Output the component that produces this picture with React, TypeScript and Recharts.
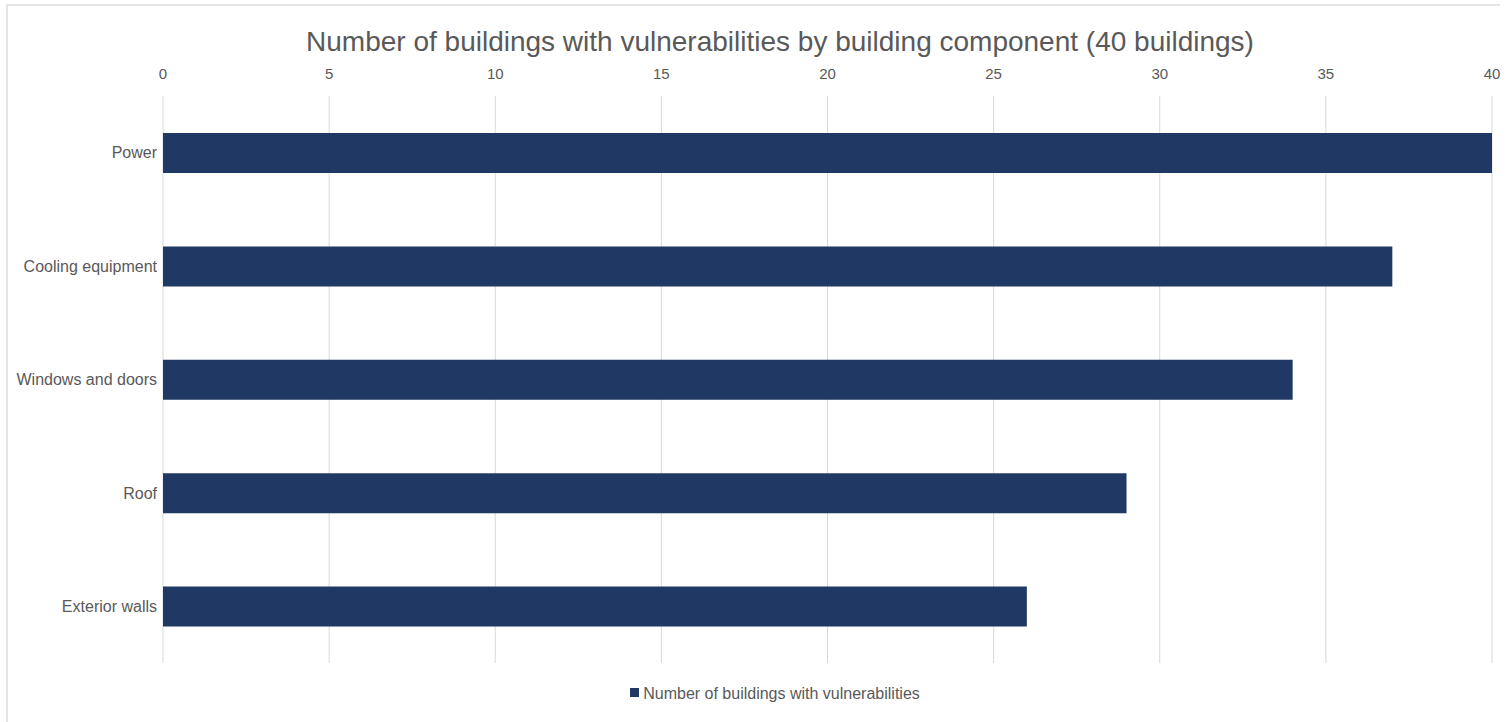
import React from 'react';
import { BarChart, Bar, XAxis, YAxis, CartesianGrid, Legend } from 'recharts';

const categories = ['Power', 'Cooling equipment', 'Windows and doors', 'Roof', 'Exterior walls'];
const buildingCounts = [40, 37, 34, 29, 26];
const xTicks = [0, 5, 10, 15, 20, 25, 30, 35, 40];
const seriesName = 'Number of buildings with vulnerabilities';
const chartTitle = 'Number of buildings with vulnerabilities by building component (40 buildings)';

const data = categories.map((c, i) => ({ component: c, value: buildingCounts[i] }));

const FONT = '"Liberation Sans", Arial, Helvetica, sans-serif';
const BAR_COLOR = '#203864';
const TEXT_COLOR = '#595959';

const LegendContent = () => (
  <div style={{ height: 20, lineHeight: '20px', textAlign: 'center', fontFamily: FONT, fontSize: 16, color: TEXT_COLOR, paddingLeft: 58 }}>
    <span style={{ display: 'inline-block', width: 9, height: 9, background: BAR_COLOR, marginRight: 4, verticalAlign: 'middle', position: 'relative', top: -1 }} />
    <span style={{ verticalAlign: 'middle' }}>{seriesName}</span>
  </div>
);

export default function App() {
  return (
    <div style={{ position: 'absolute', left: 0, top: 0, width: 1506, height: 722, background: '#fff', overflow: 'hidden', fontFamily: FONT }}>
      <div style={{ position: 'absolute', left: 6, top: 4, width: 1492, height: 740, borderTop: '2px solid #e4e4e4', borderLeft: '2px solid #e4e4e4' }} />
      <div style={{ position: 'absolute', left: 280, top: 28, width: 1000, textAlign: 'center', fontSize: 28, lineHeight: '28px', color: TEXT_COLOR, whiteSpace: 'nowrap' }}>
        {chartTitle}
      </div>
      <div style={{ position: 'absolute', left: 0, top: 0 }}>
        <BarChart
          width={1506}
          height={722}
          data={data}
          layout="vertical"
          margin={{ top: 66, right: 14, left: 0, bottom: 19 }}
        >
          <CartesianGrid horizontal={false} vertical={true} stroke="#d9d9d9" />
          <XAxis
            type="number"
            orientation="top"
            domain={[0, 40]}
            ticks={xTicks}
            axisLine={false}
            tickLine={false}
            height={30}
            tick={{ fill: TEXT_COLOR, fontSize: 15, fontFamily: FONT, dy: -9 }}
            interval={0}
          />
          <YAxis
            type="category"
            dataKey="component"
            width={163}
            axisLine={false}
            tickLine={false}
            tickSize={0}
            tickMargin={6}
            tick={{ fill: TEXT_COLOR, fontSize: 16, fontFamily: FONT }}
            interval={0}
          />
          <Legend
            verticalAlign="bottom"
            align="center"
            wrapperStyle={{ paddingTop: 20 }}
            content={() => <LegendContent />}
          />
          <Bar dataKey="value" name={seriesName} fill={BAR_COLOR} barSize={40} isAnimationActive={false} />
        </BarChart>
      </div>
    </div>
  );
}
